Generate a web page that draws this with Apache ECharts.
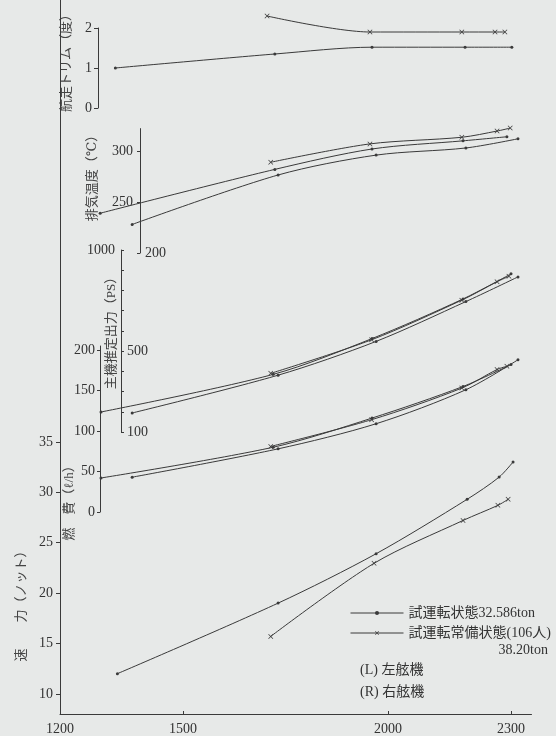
<!DOCTYPE html>
<html><head><meta charset="utf-8">
<script src="https://cdn.jsdelivr.net/npm/echarts@6/dist/echarts.min.js"></script>
<style>html,body{margin:0;padding:0;background:#e7e9e8;}#c{width:556px;height:736px;}</style>
</head><body><div id="c"></div>
<script>
// ---- tick / label values ----
const rpmTicks = [1200, 1500, 2000, 2300];
const trimTicks = [0, 1, 2];
const exhaustTicks = [200, 250, 300];
const exhaustLabelsLeft = [250, 300];
const exhaustLabelsRight = [200];
const powerTicks = [100, 200, 300, 400, 500, 600, 700, 800, 900, 1000];
const powerLabelsLeft = [1000];
const powerLabelsRight = [100, 500];
const fuelTicks = [0, 50, 100, 150, 200];
const speedTicks = [10, 15, 20, 25, 30, 35];

// ---- series names ----
const nameTrial = '試運転状態32.586ton';
const nameFull = '試運転常備状態(106人)';

// ---- data: [rpm, value] ----
const trimTrial = [[1335, 1.0], [1724, 1.35], [1961, 1.52], [2188, 1.52], [2302, 1.52]];
const trimFull = [[1705, 2.3], [1956, 1.9], [2180, 1.9], [2261, 1.9], [2285, 1.9]];

const exhTrialL = [[1298, 239], [1724, 282], [1961, 302], [2183, 310], [2290, 314]];
const exhTrialR = [[1376, 228], [1732, 276.5], [1971, 296], [2190, 303], [2317, 312]];
const exhFull = [[1714, 289], [1956, 307], [2180, 313.5], [2266, 319.6], [2298, 322.5]];

const powTrialL = [[1300, 199], [1720, 385], [1961, 562], [2183, 758], [2300, 882]];
const powTrialR = [[1376, 194], [1732, 381], [1971, 548], [2190, 745], [2317, 867]];
const powFull = [[1714, 390], [1960, 556], [2180, 752], [2266, 843], [2295, 870]];

const fuelTrialL = [[1300, 42], [1720, 80], [1961, 116], [2183, 155], [2300, 182]];
const fuelTrialR = [[1376, 43], [1732, 78], [1971, 109], [2190, 151], [2317, 188]];
const fuelFull = [[1714, 81], [1960, 114], [2180, 153], [2266, 176], [2290, 180]];

const speedTrial = [[1340, 12.0], [1732, 19.0], [1971, 23.9], [2193, 29.3], [2271, 31.5], [2305, 33.0]];
const speedFull = [[1714, 15.7], [1966, 22.95], [2183, 27.2], [2268, 28.7], [2293, 29.3]];

// ---- styling ----
const ink = '#3a3a3a';
const serif = "'Liberation Serif','DejaVu Serif','Noto Sans CJK JP',serif";
const crossPath = 'path://M0,1L1,0L5,4L9,0L10,1L6,5L10,9L9,10L5,6L1,10L0,9L4,5Z';
const plain = v => String(v);

const grids = [
  {left: 60, right: 24.5, top: 28, height: 80},        // trim
  {left: 60, right: 24.5, top: 128.6, height: 124.4},  // exhaust
  {left: 60, right: 24.5, top: 250, height: 182},      // power
  {left: 60, right: 24.5, top: 346, height: 166},      // fuel
  {left: 60, right: 24.5, top: 0, bottom: 22}          // speed
];

const xAxes = grids.map((g, i) => ({
  gridIndex: i, type: 'value', min: 1200, max: 2350, show: i === 4,
  axisLine: {onZero: false, lineStyle: {color: ink, width: 1}},
  axisTick: {inside: true, length: 3, customValues: rpmTicks, lineStyle: {color: ink}},
  axisLabel: {customValues: rpmTicks, formatter: plain, margin: 8, color: '#333', fontSize: 14, fontFamily: serif},
  splitLine: {show: false}
}));

function yAx(o) {
  return Object.assign({
    type: 'value', position: 'left', splitLine: {show: false},
    axisLine: {show: true, onZero: false, lineStyle: {color: ink, width: 1}},
  }, o);
}
const lab = (vals, extra) => Object.assign({customValues: vals, formatter: plain, color: '#333', fontSize: 14, fontFamily: serif, margin: 6}, extra || {});
const tick = (vals, extra) => Object.assign({customValues: vals, length: 3, lineStyle: {color: ink}}, extra || {});

const yAxes = [
  yAx({gridIndex: 0, min: 0, max: 2, offset: -38, axisTick: tick(trimTicks, {length: 4}), axisLabel: lab(trimTicks)}),
  yAx({gridIndex: 1, min: 200, max: 322, offset: -80, axisTick: tick(exhaustTicks), axisLabel: lab(exhaustLabelsLeft, {margin: 7})}),
  yAx({gridIndex: 2, min: 100, max: 1000, offset: -61, axisTick: tick(powerTicks, {inside: true}), axisLabel: lab(powerLabelsRight, {inside: true, margin: 6})}),
  yAx({gridIndex: 3, min: 0, max: 205, offset: -40, axisTick: tick(fuelTicks), axisLabel: lab(fuelTicks, {margin: 5})}),
  yAx({gridIndex: 4, min: 8, max: 8 + 714 / 10.08, offset: 0, axisTick: tick(speedTicks, {length: 4}), axisLabel: lab(speedTicks, {margin: 7})}),
  yAx({gridIndex: 1, min: 200, max: 322, offset: -80, axisLine: {show: false}, axisTick: {show: false}, axisLabel: lab(exhaustLabelsRight, {inside: true, margin: 5})}),
  yAx({gridIndex: 2, min: 100, max: 1000, offset: -61, axisLine: {show: false}, axisTick: {show: false}, axisLabel: lab(powerLabelsLeft, {margin: 6})})
];

function mk(name, data, idx, full) {
  return {
    type: 'line', name: name, data: data, xAxisIndex: idx, yAxisIndex: idx,
    smooth: 0.3, clip: false, silent: true,
    symbol: full ? crossPath : 'circle', symbolSize: full ? 5 : 3,
    lineStyle: {color: ink, width: 1}, itemStyle: {color: ink},
    emphasis: {disabled: true}
  };
}

const series = [
  mk(nameTrial, trimTrial, 0, false), mk(nameFull, trimFull, 0, true),
  mk(nameTrial, exhTrialL, 1, false), mk(nameTrial, exhTrialR, 1, false), mk(nameFull, exhFull, 1, true),
  mk(nameTrial, powTrialL, 2, false), mk(nameTrial, powTrialR, 2, false), mk(nameFull, powFull, 2, true),
  mk(nameTrial, fuelTrialL, 3, false), mk(nameTrial, fuelTrialR, 3, false), mk(nameFull, fuelFull, 3, true),
  mk(nameTrial, speedTrial, 4, false), mk(nameFull, speedFull, 4, true)
];

const vtext = (t, x, y) => ({
  type: 'text', x: x, y: y, rotation: Math.PI / 2, silent: true,
  style: {text: t, fill: '#444', font: '13px ' + serif, textAlign: 'center', textVerticalAlign: 'middle'}
});
const htext = (t, x, y, align) => ({
  type: 'text', x: x, y: y, silent: true,
  style: {text: t, fill: '#333', font: '14px ' + serif, textAlign: align || 'left', textVerticalAlign: 'middle'}
});

const chart = echarts.init(document.getElementById('c'));
chart.setOption({
  backgroundColor: '#e7e9e8',
  animation: false,
  grid: grids,
  xAxis: xAxes,
  yAxis: yAxes,
  series: series,
  legend: {
    left: 350, top: 606, orient: 'vertical', padding: 0, itemWidth: 53, itemHeight: 5, itemGap: 6,
    selectedMode: false, data: [nameTrial, nameFull],
    lineStyle: {width: 1, color: ink},
    itemStyle: {color: ink, borderWidth: 0},
    textStyle: {color: '#333', fontSize: 14, lineHeight: 14, fontFamily: serif}
  },
  graphic: [
    vtext('航走トリム（度）', 67, 60),
    vtext('排気温度（℃）', 93, 175),
    vtext('主機推定出力（PS）', 112, 330),
    vtext('燃　費（ℓ/h）', 70, 500),
    vtext('速　　力（ノット）', 22, 603),
    htext('38.20ton', 548, 650, 'right'),
    htext('(L) 左舷機', 360, 670),
    htext('(R) 右舷機', 360, 692)
  ]
});
</script></body></html>
